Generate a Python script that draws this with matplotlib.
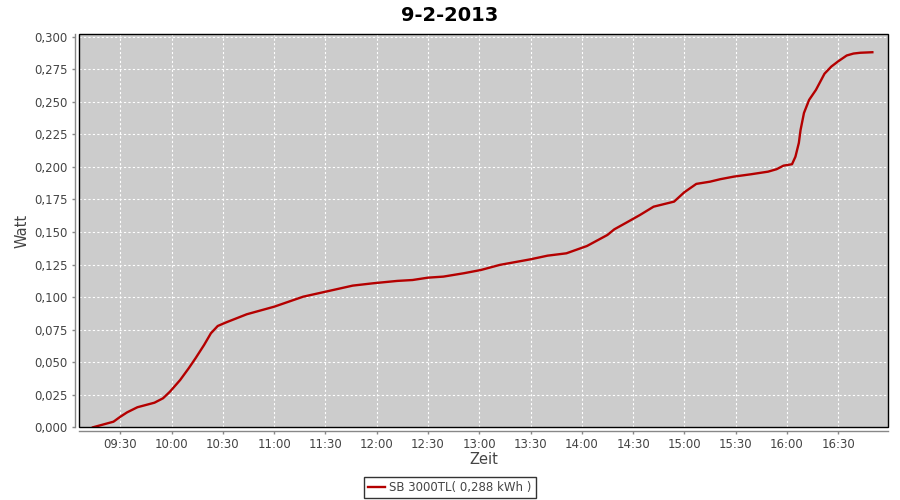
import pandas as pd
import matplotlib
matplotlib.use("Agg")
import matplotlib.pyplot as plt
import matplotlib.dates as mdates
from matplotlib.patches import Rectangle
from matplotlib.ticker import FuncFormatter, MultipleLocator

# readings for 9-2-2013, times of day and cumulative value
times = ["09:14", "09:26", "09:30", "09:34", "09:40", "09:50", "09:55", "09:59",
         "10:05", "10:10", "10:14", "10:19", "10:23", "10:27", "10:32", "10:44",
         "11:00", "11:17", "11:30", "11:46", "11:58", "12:12", "12:21", "12:30",
         "12:39", "12:51", "13:01", "13:12", "13:30", "13:40", "13:51", "14:03",
         "14:15", "14:19", "14:26", "14:34", "14:42", "14:54", "15:00", "15:07",
         "15:15", "15:21", "15:29", "15:39", "15:49", "15:54", "15:58", "16:03",
         "16:05", "16:07", "16:08", "16:10", "16:13", "16:17", "16:22", "16:26",
         "16:30", "16:35", "16:39", "16:43", "16:50"]
watt = [0.000, 0.0043, 0.0081, 0.0115, 0.0154, 0.0189, 0.0223, 0.0273,
        0.0363, 0.0453, 0.0530, 0.0632, 0.0722, 0.0778, 0.0806, 0.0868,
        0.0926, 0.1003, 0.1041, 0.1088, 0.1106, 0.1124, 0.1131, 0.1149,
        0.1157, 0.1183, 0.1208, 0.1247, 0.1290, 0.1318, 0.1336, 0.1392,
        0.1477, 0.1520, 0.1571, 0.1630, 0.1694, 0.1733, 0.1805, 0.1869,
        0.1886, 0.1905, 0.1925, 0.1943, 0.1963, 0.1982, 0.2009, 0.2020,
        0.2078, 0.2184, 0.2283, 0.2414, 0.2514, 0.2591, 0.2715, 0.2770,
        0.2810, 0.2855, 0.2870, 0.2876, 0.2880]
series_name = "SB 3000TL( 0,288 kWh )"
day = "2013-02-09"

t = pd.to_datetime([day + " " + s for s in times])

fig = plt.figure(figsize=(9, 5), dpi=100)
ax = fig.add_axes([0.0881, 0.1454, 0.987 - 0.0881, 0.932 - 0.1454])
ax.set_facecolor("#cccccc")

ax.plot(t, watt, color="#b40000", lw=1.7, label=series_name, zorder=3)

ax.set_xlim(pd.Timestamp(day + " 09:06"), pd.Timestamp(day + " 16:59:20"))
ax.set_ylim(0, 0.302)

ax.xaxis.set_major_locator(mdates.MinuteLocator(byminute=[0, 30]))
ax.xaxis.set_major_formatter(mdates.DateFormatter("%H:%M"))
ax.yaxis.set_major_locator(MultipleLocator(0.025))
ax.yaxis.set_major_formatter(FuncFormatter(lambda v, p: f"{v:.3f}".replace(".", ",")))

ax.grid(True, color="white", linestyle=(0, (2, 2)), lw=0.8)
ax.set_axisbelow(True)

for s in ["top", "right"]:
    ax.spines[s].set_visible(False)
for s in ["left", "bottom"]:
    ax.spines[s].set_position(("outward", 3))
    ax.spines[s].set_color("#888888")
    ax.spines[s].set_linewidth(1.0)
ax.add_patch(Rectangle((0, 0), 1, 1, transform=ax.transAxes, fill=False,
                       edgecolor="black", lw=1.0, zorder=5, clip_on=False))

ax.tick_params(axis="both", colors="#888888", labelcolor="#444444",
               labelsize=8.5, length=2.5, width=1, pad=3)
ax.tick_params(axis="x", pad=2)

ax.set_xlabel("Zeit", fontsize=10.5, color="#444444", labelpad=1)
ax.set_ylabel("Watt", fontsize=10.5, color="#444444", labelpad=3)
fig.suptitle("9-2-2013", fontsize=14, fontweight="bold", x=0.5, y=0.988, va="top")

leg = fig.legend(loc="center", bbox_to_anchor=(0.5, 0.025), fontsize=8.5,
                 frameon=True, fancybox=False, handlelength=1.4,
                 handletextpad=0.4, borderpad=0.35, borderaxespad=0)
leg.get_frame().set_edgecolor("black")
leg.get_frame().set_linewidth(1.0)
for txt in leg.get_texts():
    txt.set_color("#444444")

fig.savefig("out.png", dpi=100)
